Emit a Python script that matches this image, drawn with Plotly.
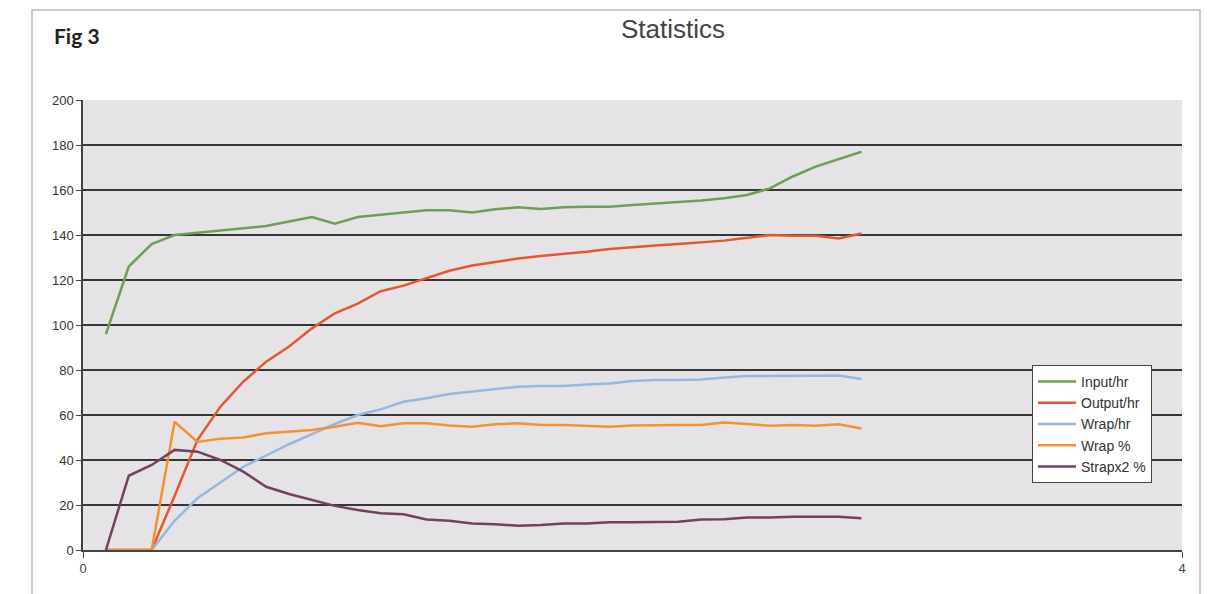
import plotly.graph_objects as go

# time in hours (5-minute samples)
steps = list(range(1, 35))
hours = [s / 12 for s in steps]

input_hr = [96, 126, 136, 140, 141, 142, 143.3, 144, 146, 148, 145, 148, 149, 150, 151, 151,
            150, 151.4, 152.3, 151.6, 152.3, 152.6, 152.6, 153.3, 154, 154.5, 155.3, 156.3,
            157.8, 160.7, 166, 170.4, 173.6, 177]
output_hr = [0, 0, 0, 24, 49, 63.7, 74.8, 83.7, 90.4, 98.5, 105.2, 109.5, 115, 117.5, 120.7,
             124.1, 126.4, 128.1, 129.6, 130.7, 131.6, 132.6, 133.8, 134.4, 135.3, 136, 136.6,
             137.5, 138.8, 140, 139.7, 139.7, 138.5, 140.7]
wrap_hr = [0, 0, 0, 13, 23, 30, 37, 42, 47, 51.5, 56, 60, 62.5, 65.9, 67.4, 69.3, 70.4, 71.4,
           72.6, 72.9, 72.9, 73.6, 74, 75.1, 75.6, 75.6, 75.8, 76.7, 77.3, 77.3, 77.3, 77.3,
           77.6, 76]
wrap_pct = [0, 0, 0, 57, 48, 49.5, 50, 51.9, 52.6, 53.3, 54.8, 56.6, 55, 56.3, 56.3, 55.3,
            54.8, 55.9, 56.3, 55.6, 55.6, 55.3, 54.8, 55.3, 55.6, 55.6, 55.6, 56.7, 56, 55.2,
            55.6, 55.2, 55.9, 54]
strap_pct = [0, 33, 37.8, 44.5, 43.7, 40, 34.8, 28.1, 24.9, 22.2, 19.6, 17.8, 16.3, 15.9, 13.6,
             13, 11.8, 11.4, 10.8, 11.1, 11.8, 11.8, 12.3, 12.3, 12.6, 12.6, 13.6, 13.7, 14.4,
             14.4, 14.8, 14.8, 14.8, 14.1]

series_names = ["Input/hr", "Output/hr", "Wrap/hr", "Wrap %", "Strapx2 %"]
series_values = [input_hr, output_hr, wrap_hr, wrap_pct, strap_pct]
series_colors = ["#6f9e58", "#e8562e", "#94b9e0", "#f5922f", "#74405f"]

y_ticks = list(range(0, 201, 20))
x_ticks = [0, 4]

fig = go.Figure()
for name, vals, col in zip(series_names, series_values, series_colors):
    fig.add_trace(go.Scatter(x=hours, y=vals, mode="lines", name=name,
                             line=dict(color=col, width=2.5)))

L, R, T, B = 83, 25, 100, 44
W, H = 1207, 594
pw, ph = W - L - R, H - T - B

def px(xp):
    return (xp - L) / pw

def py(yp):
    return (H - B - yp) / ph

fig.update_layout(
    width=W, height=H,
    margin=dict(l=L, r=R, t=T, b=B),
    paper_bgcolor="white",
    plot_bgcolor="#e5e3e5",
    font=dict(family="Liberation Sans, Arial", size=13, color="#333333"),
    showlegend=True,
    legend=dict(x=px(1032), y=py(365), xanchor="left", yanchor="top",
                bgcolor="white", bordercolor="#444444", borderwidth=1,
                font=dict(size=14, color="#333333"), itemwidth=38,
                tracegroupgap=0),
    xaxis=dict(range=[0, 4], tickvals=x_ticks, ticktext=[str(v) for v in x_ticks],
               showgrid=False, zeroline=False, showline=True, linecolor="#444444",
               linewidth=1.5, ticks="outside", ticklen=6, tickcolor="#444444",
               tickfont=dict(size=13, color="#444444")),
    yaxis=dict(range=[0, 200], tickvals=y_ticks, showgrid=True, gridcolor="#363636",
               gridwidth=1.8, zeroline=False, showline=True, linecolor="#444444",
               linewidth=1.5, ticks="outside", ticklen=5, tickcolor="#444444",
               tickfont=dict(size=13, color="#333333")),
    shapes=[dict(type="rect", xref="paper", yref="paper",
                 x0=px(32), x1=px(1200), y0=py(600), y1=py(10),
                 line=dict(color="#bbbbbb", width=1.5), fillcolor="rgba(0,0,0,0)",
                 layer="below")],
    annotations=[
        dict(text="Statistics", xref="paper", yref="paper", x=px(673), y=py(29),
             xanchor="center", yanchor="middle", showarrow=False,
             font=dict(size=26, color="#444444", family="Liberation Sans, Arial")),
        dict(text="<b>Fig 3</b>", xref="paper", yref="paper", x=px(52), y=py(35),
             xanchor="left", yanchor="middle", showarrow=False,
             font=dict(size=21, color="#222222", family="Lato, Open Sans, sans-serif")),
    ],
)

fig.write_html("out.html")
